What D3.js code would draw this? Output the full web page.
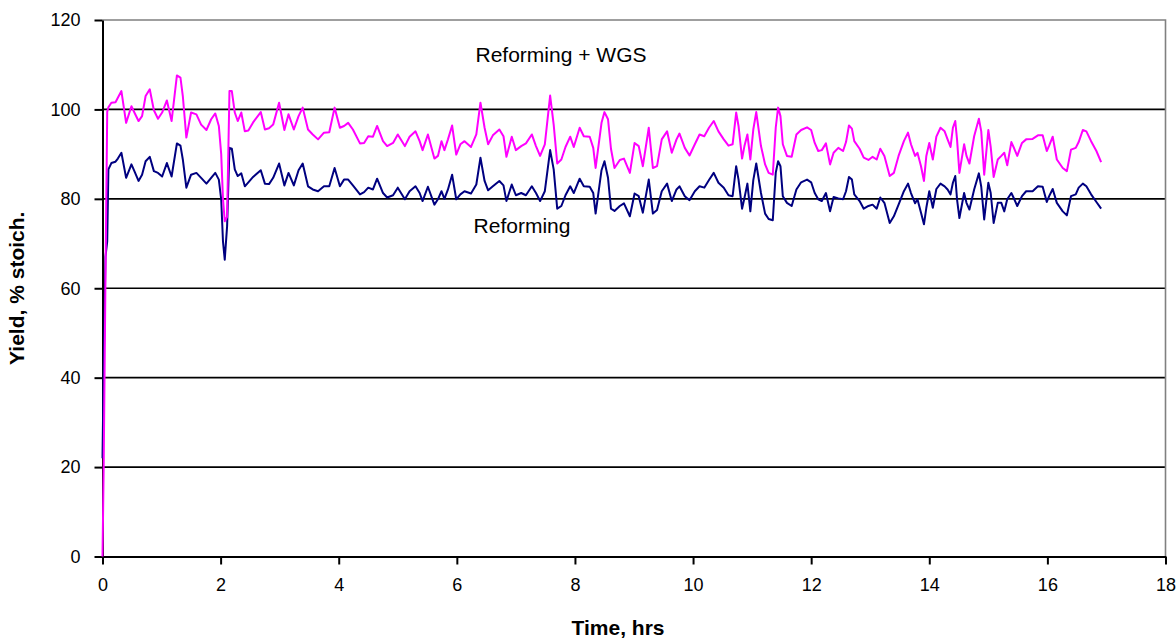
<!DOCTYPE html>
<html>
<head>
<meta charset="utf-8">
<script src="https://cdn.jsdelivr.net/npm/d3@7"></script>
<style>
  html, body { margin: 0; padding: 0; background: #fff; }
  svg { display: block; font-family: "Liberation Sans", Arial, sans-serif; }
</style>
</head>
<body>
<svg id="chart" width="1176" height="638"></svg>
<script>
// Elapsed run time (hours) shared by both yield series
const hours = [
  0, 0.02, 0.05, 0.08, 0.10, 0.15, 0.22, 0.26, 0.32, 0.40, 0.49, 0.54, 0.61, 0.67, 0.73, 0.80, 0.87, 0.94,
  1.01, 1.09, 1.17, 1.26, 1.32, 1.36, 1.42, 1.50, 1.59, 1.67, 1.76, 1.84, 1.91, 1.97,
  2.01, 2.04, 2.07, 2.11, 2.15, 2.19, 2.24, 2.29, 2.35, 2.41, 2.47, 2.55, 2.68, 2.75, 2.82, 2.89, 2.99,
  3.08, 3.15, 3.24, 3.32, 3.39, 3.48, 3.56, 3.65, 3.75, 3.84, 3.93,
  4.02, 4.09, 4.16, 4.24, 4.36, 4.43, 4.50, 4.58, 4.65, 4.75, 4.82, 4.92,
  5.00, 5.12, 5.20, 5.30, 5.37, 5.42, 5.51, 5.62, 5.68, 5.74, 5.79, 5.85, 5.92, 5.99,
  6.06, 6.13, 6.24, 6.33, 6.40, 6.47, 6.53, 6.61, 6.72, 6.79, 6.84, 6.93,
  7.00, 7.09, 7.17, 7.27, 7.34, 7.41, 7.49, 7.58, 7.64, 7.70, 7.77, 7.84, 7.92, 7.98,
  8.08, 8.15, 8.25, 8.31, 8.35, 8.45, 8.50, 8.56, 8.61, 8.67, 8.76, 8.83, 8.93,
  9.01, 9.08, 9.15, 9.25, 9.32, 9.39, 9.47, 9.56, 9.64, 9.72, 9.77, 9.86, 9.94,
  10.03, 10.11, 10.19, 10.27, 10.35, 10.43, 10.52, 10.60, 10.67, 10.73, 10.77, 10.83, 10.87, 10.92, 10.97,
  11.02, 11.07, 11.15, 11.22, 11.28, 11.35, 11.40, 11.44, 11.48, 11.52, 11.59, 11.67, 11.75, 11.83, 11.93,
  12.00, 12.06, 12.12, 12.18, 12.25, 12.32, 12.38, 12.46, 12.54, 12.59, 12.64, 12.69, 12.73, 12.82, 12.89, 12.97,
  13.04, 13.11, 13.17, 13.24, 13.33, 13.40, 13.48, 13.57, 13.64, 13.69, 13.76, 13.80, 13.86, 13.91, 13.95,
  14.00, 14.06, 14.12, 14.19, 14.26, 14.31, 14.36, 14.40, 14.44, 14.47, 14.51, 14.59, 14.63, 14.68, 14.76, 14.84, 14.88, 14.93,
  15.00, 15.04, 15.09, 15.16, 15.22, 15.27, 15.32, 15.39, 15.44, 15.49, 15.57, 15.64, 15.75, 15.84, 15.92, 15.99,
  16.03, 16.09, 16.16, 16.26, 16.33, 16.40, 16.48, 16.53, 16.60, 16.66, 16.74, 16.83, 16.91
];

// H2 yield, reforming + water-gas shift (% of stoichiometric)
const reformingWgs = [
  0, 20, 62, 99.5, 100.5, 101.5, 101.6, 102.6, 104.1, 97, 100.7, 99.3, 97.4, 98.5, 103, 104.5, 99.8, 97.9,
  99.3, 102, 97.4, 107.6, 107.1, 103, 93.7, 99.3, 98.9, 96.6, 95.4, 97.8, 99.1, 96.3,
  90, 80, 75, 76, 104.1, 104.1, 99.3, 97.4, 99.3, 95.1, 95.3, 97.1, 99.4, 95.5, 95.8, 96.6, 101.5,
  95.4, 98.9, 95.5, 98.5, 100.4, 95.5, 94.4, 93.3, 94.8, 94.9, 100.4,
  95.9, 96.3, 97, 95.5, 92.4, 92.5, 94, 93.9, 96.3, 92.9, 91.8, 92.5,
  94.4, 91.8, 93.9, 95.1, 92.9, 90.9, 94.4, 89, 89.6, 92.9, 90.9, 93.3, 96.4, 89.9,
  92.2, 92.9, 91.6, 94.4, 101.5, 95.9, 92.2, 94.2, 95.5, 94, 89.4, 93.9,
  90.9, 91.8, 92.4, 94.4, 91.8, 89.6, 92.2, 103.1, 96.6, 87.9, 88.8, 91.6, 93.9, 91.6,
  95.9, 94, 93.9, 91.4, 86.9, 97, 99.4, 97.8, 91.2, 86.9, 88.7, 89, 85.8,
  92.5, 91.8, 87.3, 95.9, 86.9, 87.3, 93.3, 95.1, 90.3, 93.3, 94.6, 91.4, 89.7,
  92.2, 94.4, 94, 95.9, 97.4, 95.1, 93.3, 91.9, 92.2, 99.3, 96.3, 89, 91.8, 94.4, 88.8,
  95.5, 99.4, 91.8, 87.7, 85.8, 85.4, 95.9, 100.4, 98.5, 92.2, 89.6, 89.4, 94.4, 95.4, 96,
  95.4, 92.5, 90.7, 90.9, 92.4, 87.7, 90.3, 91.4, 90.7, 92.7, 96.4, 95.7, 92.9, 91.2, 89.2, 88.7,
  89.4, 88.8, 91.2, 89.6, 85.1, 85.8, 89.6, 92.9, 94.8, 92.2, 89.6, 90.3, 87.3, 84, 89.6,
  92.5, 88.8, 93.9, 95.9, 95.1, 93.3, 91.6, 95.9, 97.4, 93.3, 85.8, 92.2, 89.6, 87.9, 94, 97.9, 95.1, 85.4,
  95.4, 91.6, 84.9, 88.8, 89.6, 90.3, 87.5, 92.7, 91.2, 89.6, 92.5, 93.3, 93.4, 94.2, 94.2, 90.7,
  91.9, 93.9, 88.8, 86.9, 86.2, 91, 91.4, 92.7, 95.4, 95.1, 92.9, 90.7, 88.2
];

// H2 yield, reforming only (% of stoichiometric)
const reforming = [
  22, 42, 67, 70.5, 86.6, 88, 88.3, 89, 90.3, 84.7, 87.7, 86.2, 84, 85.4, 88.4, 89.4, 86.2, 85.8,
  85, 88, 85, 92.4, 91.9, 88.8, 82.5, 85.4, 85.8, 84.7, 83.4, 84.7, 85.8, 84.3,
  79.9, 70.5, 66.4, 73.9, 91.4, 91.2, 86.6, 85.1, 85.7, 82.8, 83.7, 84.9, 86.4, 83.4, 83.3, 84.7, 87.9,
  83, 85.8, 83, 86.4, 87.9, 82.8, 82.1, 81.7, 82.8, 82.8, 86.9,
  82.8, 84.3, 84.3, 83, 81, 81.5, 82.5, 82.1, 84.5, 81.3, 80.3, 80.8,
  82.5, 79.9, 81.7, 82.8, 81.3, 79.5, 82.7, 78.7, 79.9, 81.7, 80, 82.1, 85.4, 79.9,
  81, 81.7, 81.2, 83.2, 89.2, 84, 81.9, 82.8, 84, 83, 79.5, 83.2,
  80.8, 81.3, 80.8, 82.8, 81.3, 79.5, 81.7, 90.9, 86.6, 77.8, 78.4, 80.8, 82.8, 81.3,
  84.5, 82.8, 82.7, 81.3, 76.7, 86.4, 88.4, 84.7, 77.8, 77.3, 78.4, 79, 76.1,
  81.2, 80.6, 76.9, 84.3, 76.7, 77.5, 81.7, 83.4, 79.5, 82.1, 82.8, 80.6, 79.7,
  81.7, 82.8, 82.5, 84.2, 85.8, 83.6, 82.5, 80.8, 80.6, 87.3, 84.3, 77.8, 80.2, 83.4, 77.2,
  84.2, 87.9, 81.3, 76.7, 75.5, 75.2, 85.8, 88.4, 87.3, 80.6, 79.1, 78.4, 82.1, 83.7, 84.3,
  83.7, 81.3, 79.9, 79.5, 81.3, 77.2, 80.4, 80.1, 79.9, 81.7, 84.9, 84.3, 81, 79.5, 77.8, 78.4,
  78.7, 77.8, 80.3, 79.1, 74.6, 76.1, 78.7, 81.7, 83.4, 81.3, 79, 79.9, 76.9, 74.3, 78,
  81.7, 78, 82.2, 83.4, 82.8, 82.1, 81, 83.6, 85.1, 79.9, 75.7, 81.3, 79.1, 77.6, 82.1, 85.7, 82.7, 75.4,
  83.6, 81.3, 74.6, 79.1, 79.1, 77.2, 79.9, 81.3, 79.9, 78.4, 80.6, 81.7, 81.7, 82.8, 82.7, 79.3,
  80.6, 82.2, 79.1, 77.2, 76.3, 80.6, 81, 82.5, 83.4, 82.8, 81, 79.3, 77.8
];

const yTicks = [0, 20, 40, 60, 80, 100, 120];
const xTicks = [0, 2, 4, 6, 8, 10, 12, 14, 16, 18];
const seriesLabels = ["Reforming + WGS", "Reforming"];

const svg = d3.select("#chart");
const plot = { left: 102.5, right: 1165.5, top: 20, bottom: 556.5 };

const x = d3.scaleLinear().domain([0, 18]).range([plot.left, plot.right]);
const y = d3.scaleLinear().domain([0, 120]).range([plot.bottom, plot.top]);

svg.append("rect").attr("width", 1176).attr("height", 638).attr("fill", "#fff");

// Horizontal gridlines
svg.append("g")
  .selectAll("line")
  .data(yTicks.filter(v => v > 0 && v < 120))
  .join("line")
  .attr("x1", plot.left).attr("x2", plot.right)
  .attr("y1", d => y(d)).attr("y2", d => y(d))
  .attr("stroke", "#000").attr("stroke-width", 1.6);

// Plot-area frame (top and right edges)
svg.append("path")
  .attr("d", `M${plot.left},${y(120)}H${plot.right}V${plot.bottom}`)
  .attr("fill", "none").attr("stroke", "#808080").attr("stroke-width", 1.6);

const tickFont = 18;

// Y axis
const yAxis = svg.append("g")
  .attr("transform", `translate(${plot.left},0)`)
  .call(d3.axisLeft(y).tickValues(yTicks).tickSize(8).tickPadding(14).tickSizeOuter(0));
yAxis.select(".domain").attr("stroke", "#000").attr("stroke-width", 2);
yAxis.selectAll(".tick line").attr("stroke", "#000").attr("stroke-width", 2);
yAxis.selectAll(".tick text").attr("font-size", tickFont).attr("fill", "#000")
  .attr("font-family", "'Liberation Sans', Arial, sans-serif");

// X axis
const xAxis = svg.append("g")
  .attr("transform", `translate(0,${plot.bottom})`)
  .call(d3.axisBottom(x).tickValues(xTicks).tickSize(8).tickPadding(14).tickSizeOuter(0));
xAxis.select(".domain").attr("stroke", "#000").attr("stroke-width", 2);
xAxis.selectAll(".tick line").attr("stroke", "#000").attr("stroke-width", 2);
xAxis.selectAll(".tick text").attr("font-size", tickFont).attr("fill", "#000")
  .attr("font-family", "'Liberation Sans', Arial, sans-serif");

// Series lines
const line = d3.line().x((d, i) => x(hours[i])).y(d => y(d));

svg.append("path")
  .datum(reforming)
  .attr("d", line)
  .attr("fill", "none").attr("stroke", "#000080").attr("stroke-width", 2)
  .attr("stroke-linejoin", "round");

svg.append("path")
  .datum(reformingWgs)
  .attr("d", line)
  .attr("fill", "none").attr("stroke", "#ff00ff").attr("stroke-width", 2)
  .attr("stroke-linejoin", "round");

// Series annotations
svg.append("text")
  .attr("x", 561).attr("y", 62)
  .attr("text-anchor", "middle").attr("font-size", 21).attr("fill", "#000")
  .text(seriesLabels[0]);
svg.append("text")
  .attr("x", 522).attr("y", 233)
  .attr("text-anchor", "middle").attr("font-size", 21).attr("fill", "#000")
  .text(seriesLabels[1]);

// Axis titles
svg.append("text")
  .attr("x", 618).attr("y", 635)
  .attr("text-anchor", "middle").attr("font-size", 21).attr("font-weight", "bold")
  .text("Time, hrs");
svg.append("text")
  .attr("transform", `translate(24,${(plot.top + plot.bottom) / 2}) rotate(-90)`)
  .attr("text-anchor", "middle").attr("font-size", 21).attr("font-weight", "bold")
  .text("Yield, % stoich.");
</script>
</body>
</html>
